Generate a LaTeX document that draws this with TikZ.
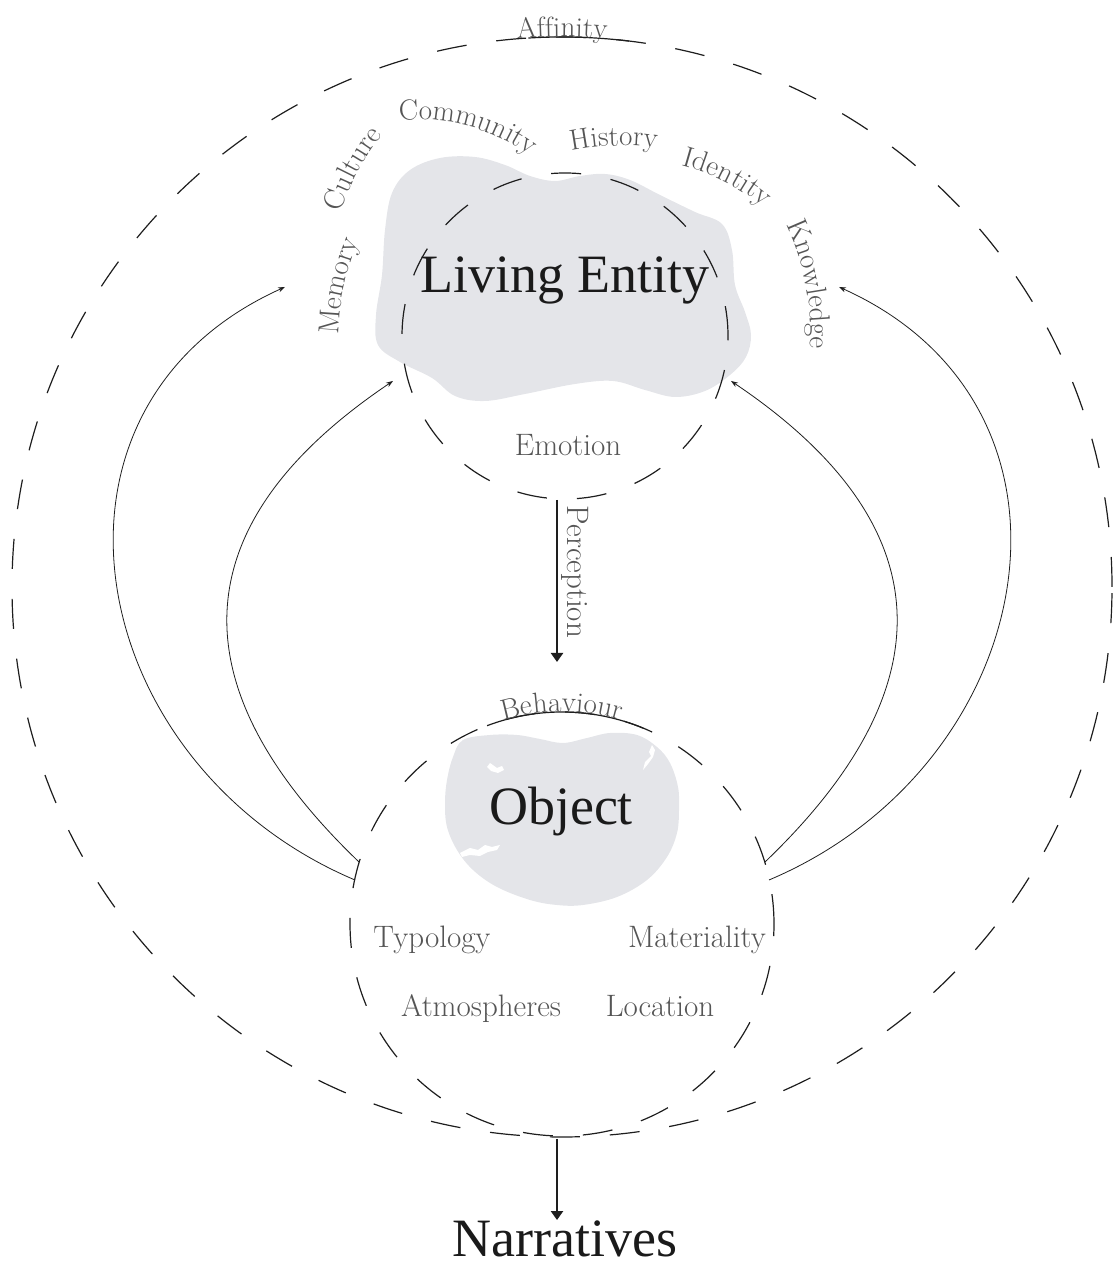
\documentclass[tikz,border=0pt]{standalone}
\usepackage{fontspec}
\usepackage{tikz}
\usetikzlibrary{arrows.meta,decorations.text,calc}

\newfontfamily\titolo{Liberation Serif}
\newcommand{\etichetta}{\fontsize{31}{36}\selectfont}
\newcommand{\etichettaArco}{\fontsize{29}{34}\selectfont}
\newcommand{\grande}{\titolo\fontsize{54}{60}\selectfont}

% Parola lungo un arco: punto base, normale, raggio, semiampiezza, testo
\newcommand{\parolaArco}[5]{%
  \path[decorate, decoration={text along path, text color=colTesto,
      text align=center, text={|\etichettaArco|#5}}]
    ($(#1)+(#2+180:#3)+(#2+#4:#3)$) arc[start angle=#2+#4, end angle=#2-#4, radius=#3];}

\begin{document}
\begin{tikzpicture}[x=1pt, y=1pt,
  tratteggio/.style={draw=colLinea, line width=1.2pt, dash pattern=on 30pt off 30pt},
  arcoPieno/.style={draw=colLinea, line width=1.2pt},
  freccia/.style={draw=colLinea, line width=0.8pt, -{Stealth[length=7pt,width=5pt]}},
  frecciaSpessa/.style={draw=colLinea, line width=2.6pt, -{Triangle[length=9pt,width=12pt]}},
  etic/.style={font=\etichetta, text=colTesto, inner sep=0pt, anchor=base},
  titoloNodo/.style={font=\grande, text=colTitolo, inner sep=0pt, anchor=base}]

% Colori
\definecolor{colBlob}{HTML}{E4E5E9}
\definecolor{colLinea}{HTML}{1E1E1E}
\definecolor{colTesto}{HTML}{555555}
\definecolor{colTitolo}{HTML}{1A1A1A}

\useasboundingbox (0,0) rectangle (1113,1268);

% Centri dei cerchi
\coordinate (centroAff) at (562,681);
\coordinate (centroViv) at (565,932);
\coordinate (centroOgg) at (562,344);

% Macchia grigia - entita vivente
\fill[colBlob] plot[smooth cycle, tension=0.6] coordinates {
  (385,1038) (392,1075) (410,1098) (440,1110) (475,1111) (505,1103)
  (530,1092) (555,1087) (580,1092) (605,1094) (630,1088) (660,1073)
  (695,1056) (722,1044) (732,1018) (735,983) (745,956) (751,933)
  (746,911) (730,893) (705,877) (675,871) (645,878) (613,887)
  (575,884) (525,874) (485,867) (455,872) (432,890) (400,906)
  (378,923) (376,953) (382,993)};

% Macchia grigia - oggetto
\fill[colBlob] plot[smooth cycle, tension=0.6] coordinates {
  (463,528) (490,533) (517,533) (540,529) (563,525) (587,530)
  (610,535) (637,533) (657,521) (670,505) (678,481) (679,458)
  (677,435) (667,411) (647,388) (617,371) (583,363) (557,363)
  (530,368) (497,381) (473,398) (457,418) (447,441) (445,465)
  (447,488) (453,511)};

% Crepe bianche
\fill[white] (487,501) -- (490,505) -- (497,500) -- (502,502) -- (504,498)
  -- (498,495) -- (491,497) -- cycle;
\fill[white] (460,415) -- (470,420) -- (478,418) -- (485,423) -- (492,421)
  -- (500,423) -- (497,418) -- (488,416) -- (480,412) -- (470,413) -- (462,411) -- cycle;
\fill[white] (652,523) -- (649,516) -- (651,512) -- (645,506) -- (643,498)
  -- (648,504) -- (653,511) -- (655,518) -- cycle;

% Cerchi tratteggiati
\draw[tratteggio] (centroAff) circle[radius=550];
\draw[tratteggio] (centroViv) circle[radius=163];
\draw[tratteggio] (centroOgg) circle[radius=212];

% Tratti pieni sotto le parole
\draw[arcoPieno] (centroAff) ++(83:550) arc[start angle=83, end angle=93.5, radius=550];
\draw[arcoPieno] (centroOgg) ++(67.5:212) arc[start angle=67.5, end angle=110.7, radius=212];

% Titoli
\node[titoloNodo] (vivente) at (565,975) {Living Entity};
\node[titoloNodo] (oggetto) at (561,443) {Object};
\node[titoloNodo] (narrativa) at (565,12) {Narratives};

% Etichette
\node[etic] (emozione) at (568,812) {Emotion};
\node[etic] (tipologia) at (432,320) {Typology};
\node[etic] (materialita) at (697,320) {Materiality};
\node[etic] (atmosfere) at (481,251) {Atmospheres};
\node[etic] (luogo) at (660,251) {Location};
\node[etic, rotate=-90, anchor=center] (percezione) at (575,696) {Perception};

% Parole sugli archi
\parolaArco{562,1231}{90}{550}{10}{Affinity}
\parolaArco{562,556}{90}{212}{25}{Behaviour}
\parolaArco{344,981}{168}{260}{30}{Memory}
\parolaArco{358,1096}{152}{250}{30}{Culture}
\parolaArco{468,1142}{75}{190}{40}{Community}
\parolaArco{614,1122}{92}{260}{30}{History}
\parolaArco{725,1086}{63}{220}{30}{Identity}
\parolaArco{806,983}{11}{250}{30}{Knowledge}

% Frecce verticali
\coordinate (percInizio) at (557,768);
\coordinate (percFine) at (557,606);
\draw[frecciaSpessa] (percInizio) -- (percFine);
\coordinate (narrInizio) at (557,129);
\draw[frecciaSpessa] (narrInizio) -- (narrativa.north -| narrInizio);

% Archi laterali
\coordinate (sxEst0) at (355,388);
\coordinate (sxEst1) at (285,981);
\coordinate (sxInt0) at (359,406);
\coordinate (sxInt1) at (393,887);
\coordinate (dxEst0) at (769,388);
\coordinate (dxEst1) at (839,981);
\coordinate (dxInt0) at (765,406);
\coordinate (dxInt1) at (731,887);
\draw[freccia] (sxEst0) .. controls (83,503) and (16,860) .. (sxEst1);
\draw[freccia] (sxInt0) .. controls (226.5,533) and (131.5,711) .. (sxInt1);
\draw[freccia] (dxEst0) .. controls (1041,503) and (1108,860) .. (dxEst1);
\draw[freccia] (dxInt0) .. controls (897.5,533) and (992.5,711) .. (dxInt1);
\end{tikzpicture}
\end{document}
